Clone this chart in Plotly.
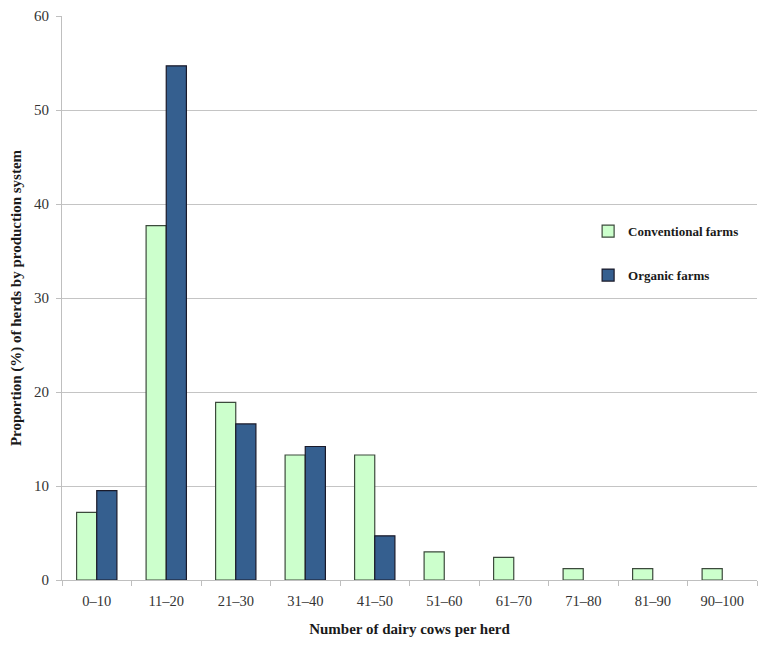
import plotly.graph_objects as go

categories = ["0–10", "11–20", "21–30", "31–40", "41–50", "51–60", "61–70", "71–80", "81–90", "90–100"]
conventional = [7.2, 37.7, 18.9, 13.3, 13.3, 3.0, 2.4, 1.2, 1.2, 1.2]
organic = [9.5, 54.7, 16.6, 14.2, 4.7, None, None, None, None, None]

font_family = "Palatino Linotype, Book Antiqua, Liberation Serif, serif"

fig = go.Figure()
fig.add_trace(go.Bar(
    x=categories, y=conventional, name="Conventional farms", legendgroup="a",
    marker=dict(color="#ccffcc", line=dict(color="#3c4a3c", width=1.2)),
))
fig.add_trace(go.Bar(
    x=categories, y=organic, name="Organic farms", legendgroup="b",
    marker=dict(color="#355f8f", line=dict(color="#1a1a2a", width=1.2)),
))

fig.update_layout(
    width=758, height=637,
    margin=dict(l=54, r=9, t=8, b=65),
    paper_bgcolor="white", plot_bgcolor="white",
    barmode="group", bargap=0.42, bargroupgap=0,
    font=dict(family=font_family, size=14, color="#333333"),
    showlegend=True,
    legend=dict(
        x=0.757, y=0.645, xanchor="left", yanchor="top",
        font=dict(family=font_family, size=13, color="#1a1a1a", weight="bold"),
        tracegroupgap=24, bgcolor="rgba(0,0,0,0)",
        itemwidth=30,
    ),
    xaxis=dict(
        automargin=False,
        showline=True, linecolor="#bfbfbf", linewidth=1,
        ticks="outside", tickson="boundaries", ticklen=5, tickcolor="#bfbfbf",
        tickfont=dict(size=14.5, color="#333333"),
        ticklabelstandoff=8,
        title=dict(text="Number of dairy cows per herd", standoff=15,
                   font=dict(size=15, color="#1a1a1a", weight="bold")),
    ),
    yaxis=dict(
        automargin=False,
        range=[0, 60], dtick=10,
        showline=True, linecolor="#bfbfbf", linewidth=1,
        showgrid=True, gridcolor="#c4c4c4", gridwidth=1,
        ticks="outside", ticklen=5, tickcolor="#bfbfbf",
        tickfont=dict(size=15, color="#333333"),
        ticklabelstandoff=4,
        zeroline=False,
        title=dict(text="Proportion (%) of herds by production system", standoff=8,
                   font=dict(size=15, color="#1a1a1a", weight="bold")),
    ),
)

fig.write_html("out.html")
